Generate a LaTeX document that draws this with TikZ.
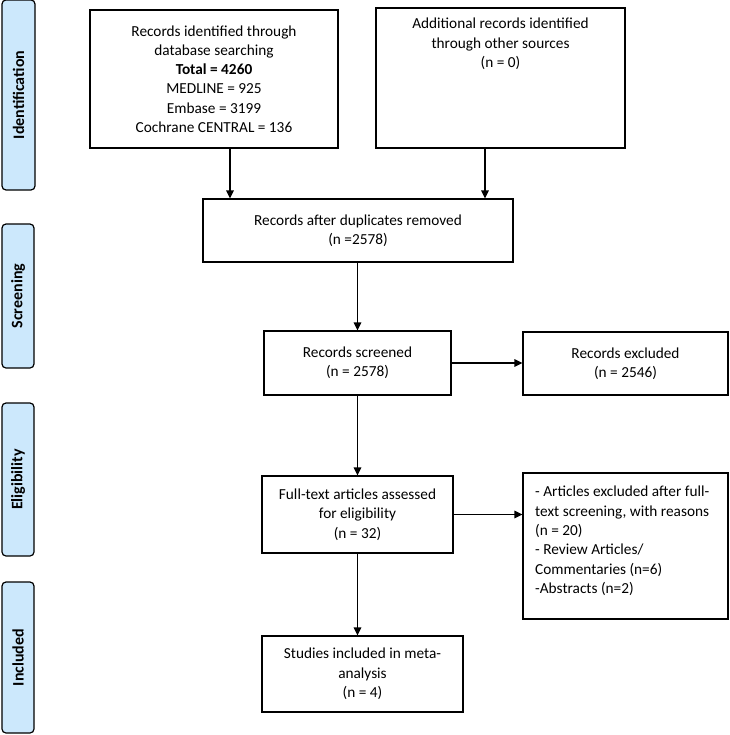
\documentclass[tikz,border=0pt]{standalone}
\usepackage{fontspec}
\setmainfont{Carlito}
\usetikzlibrary{arrows.meta}
\definecolor{phasefill}{RGB}{204,232,252}
\tikzset{
  x=1bp, y=-1bp,
  box/.style={draw=black, line width=1.2bp, fill=white, inner sep=0pt, align=center,
    font=\fontsize{15.3bp}{19.3bp}\selectfont},
  boxtext/.style={inner sep=0pt, align=center, font=\fontsize{15.3bp}{19.3bp}\selectfont},
  phase/.style={draw=black, line width=1.2bp, fill=phasefill, rounded corners=4bp,
    inner sep=0pt},
  phasetext/.style={rotate=90, font=\fontsize{16bp}{19bp}\selectfont\bfseries},
  arr/.style={line width=1.6bp, -{Triangle[length=8bp,width=7.5bp]}}
}
\begin{document}
\begin{tikzpicture}
\useasboundingbox (0,0) rectangle (730,735);
% phase labels
\node[phase, minimum width=33bp, minimum height=190bp] (ph1) at (18.5,95) {};
\node[phasetext] (ph1t) at (ph1.center) {Identification};
\node[phase, minimum width=32bp, minimum height=144bp] (ph2) at (18,296) {};
\node[phasetext] (ph2t) at (ph2.center) {Screening};
\node[phase, minimum width=32bp, minimum height=153bp] (ph3) at (18,479.5) {};
\node[phasetext] (ph3t) at (ph3.center) {Eligibility};
\node[phase, minimum width=32bp, minimum height=151bp] (ph4) at (18,657.5) {};
\node[phasetext] (ph4t) at (ph4.center) {Included};
% boxes
\node[box, minimum width=248bp, minimum height=138bp] (b1) at (214,79)
  {Records identified through\\database searching\\\textbf{Total = 4260}\\MEDLINE = 925\\Embase = 3199\\Cochrane CENTRAL = 136};
\node[box, minimum width=249bp, minimum height=140bp] (b2) at (500.5,78) {};
\node[boxtext, anchor=north] (b2t) at (500.5,18) {Additional records identified\\through other sources\\(n = 0)};
\node[box, minimum width=310bp, minimum height=63bp] (dup) at (358,230.5)
  {Records after duplicates removed\\(n =2578)};
\node[box, minimum width=187bp, minimum height=64bp] (scr) at (357.5,363)
  {Records screened\\(n = 2578)};
\node[box, minimum width=205bp, minimum height=63bp] (exc) at (625.5,363.5)
  {Records excluded\\(n = 2546)};
\node[box, minimum width=191bp, minimum height=77bp] (ft) at (357.5,514.5)
  {Full-text articles assessed\\for eligibility\\(n = 32)};
\node[box, minimum width=205bp, minimum height=146bp] (exc2) at (625.5,546) {};
\node[boxtext, anchor=north west, align=left] (exc2t) at (535,486)
  {- Articles excluded after full-\\text screening, with reasons\\(n = 20)\\- Review Articles/\\Commentaries (n=6)\\-Abstracts (n=2)};
\node[box, minimum width=201bp, minimum height=76bp] (inc) at (362.5,674)
  {Studies included in meta-\\analysis\\(n = 4)};
% connectors
\draw[arr] ([xshift=16bp]b1.south) -- ([xshift=16bp]b1.south |- dup.north);
\draw[arr] ([xshift=-15.5bp]b2.south) -- ([xshift=-15.5bp]b2.south |- dup.north);
\draw[arr] (dup.south -| scr.north) -- (scr.north);
\draw[arr] (scr.east) -- (exc.west |- scr.east);
\draw[arr] (scr.south) -- (ft.north);
\draw[arr] (ft.east) -- (exc2.west |- ft.east);
\draw[arr] (ft.south) -- (ft.south |- inc.north);
\end{tikzpicture}
\end{document}
